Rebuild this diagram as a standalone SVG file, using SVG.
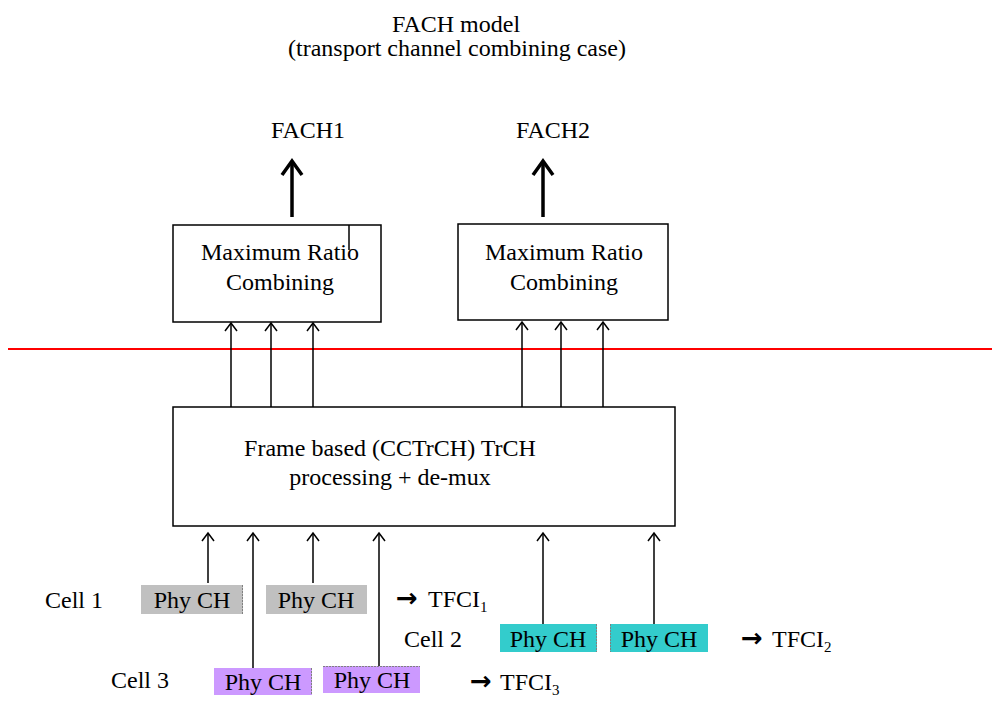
<svg xmlns="http://www.w3.org/2000/svg" width="992" height="704" viewBox="0 0 992 704">
<style>
text{font-family:"Liberation Serif","Times New Roman",serif;font-size:24px;fill:#000}
.c{text-anchor:middle}
.arr{font-family:"DejaVu Sans",sans-serif;font-size:26px;font-weight:bold}
.box{fill:#fff;stroke:#000;stroke-width:1.5}
.ln{stroke:#000;stroke-width:1.5;fill:none}
.thick{stroke:#000;stroke-width:3.5;fill:none}
.sub{font-size:15px}
.gray{fill:#c0c0c0}
.teal{fill:#33cccc}
.purple{fill:#cc99ff}
.edge{stroke:#808080;stroke-width:1;stroke-dasharray:2 1}
</style>
<defs>
<marker id="ah" markerUnits="userSpaceOnUse" markerWidth="20" markerHeight="20" viewBox="-10 -10 20 20" refX="0" refY="0" orient="auto" overflow="visible">
<path d="M-8,-6 L0,0 L-8,6" fill="none" stroke="#000" stroke-width="1.5"/>
</marker>
<marker id="ahb" markerUnits="userSpaceOnUse" markerWidth="30" markerHeight="30" viewBox="-15 -15 30 30" refX="0" refY="0" orient="auto" overflow="visible">
<path d="M-14,-10 L0,0 L-14,10" fill="none" stroke="#000" stroke-width="3.5"/>
</marker>
</defs>
<rect width="992" height="704" fill="#fff"/>
<g id="title">
<text class="c" x="456" y="32">FACH model</text>
<text class="c" x="457" y="56">(transport channel combining case)</text>
</g>
<g id="fach1"><text class="c" x="308" y="138">FACH1</text></g>
<g id="fach2"><text class="c" x="553" y="138">FACH2</text></g>
<g id="mrc1">
<rect class="box" x="173" y="225" width="208" height="97"/>
<line class="ln" x1="349" y1="225" x2="349" y2="250"/>
<text class="c" x="280" y="260">Maximum Ratio</text>
<text class="c" x="280" y="290">Combining</text>
</g>
<g id="mrc2">
<rect class="box" x="458" y="224" width="210" height="96"/>
<text class="c" x="564" y="260">Maximum Ratio</text>
<text class="c" x="564" y="290">Combining</text>
</g>
<g id="divider"><line x1="8" y1="349" x2="992" y2="349" stroke="#ff0000" stroke-width="2"/></g>
<g id="trch">
<rect class="box" x="173" y="407" width="502" height="119"/>
<text class="c" x="390" y="456">Frame based (CCTrCH) TrCH</text>
<text class="c" x="390" y="485">processing + de-mux</text>
</g>
<g id="cell1">
<text x="45" y="608">Cell 1</text>
<rect class="gray" x="141" y="585" width="102" height="29"/>
<line class="edge" x1="242.5" y1="585" x2="242.5" y2="614"/>
<text class="c" x="192" y="608">Phy CH</text>
<rect class="gray" x="266" y="585" width="101" height="29"/>
<text class="c" x="316" y="608">Phy CH</text>
<text class="arr" x="396" y="607">→</text>
<text x="428" y="607">TFCI<tspan class="sub" dy="5">1</tspan></text>
</g>
<g id="cell2">
<text x="404" y="647">Cell 2</text>
<rect class="teal" x="500" y="624" width="97" height="28"/>
<line class="edge" x1="596.5" y1="624" x2="596.5" y2="652"/>
<text class="c" x="548" y="647">Phy CH</text>
<rect class="teal" x="610" y="624" width="98" height="28"/>
<line class="edge" x1="610.5" y1="624" x2="610.5" y2="652"/>
<text class="c" x="659" y="647">Phy CH</text>
<text class="arr" x="741" y="647">→</text>
<text x="772" y="647">TFCI<tspan class="sub" dy="5">2</tspan></text>
</g>
<g id="cell3">
<text x="111" y="688">Cell 3</text>
<rect class="purple" x="214" y="668" width="98" height="27"/>
<line class="edge" x1="311.5" y1="668" x2="311.5" y2="695"/>
<text class="c" x="263" y="690">Phy CH</text>
<rect class="purple" x="323" y="666" width="97" height="27"/>
<line class="edge" x1="323" y1="666.5" x2="420" y2="666.5"/>
<text class="c" x="372" y="688">Phy CH</text>
<text class="arr" x="470" y="690">→</text>
<text x="500" y="690">TFCI<tspan class="sub" dy="5">3</tspan></text>
</g>
<g id="connectors">
<line class="thick" x1="292" y1="217" x2="292" y2="161" marker-end="url(#ahb)"/>
<line class="thick" x1="543" y1="217" x2="543" y2="161" marker-end="url(#ahb)"/>
<line class="ln" x1="231" y1="407" x2="231" y2="323" marker-end="url(#ah)"/>
<line class="ln" x1="271" y1="407" x2="271" y2="323" marker-end="url(#ah)"/>
<line class="ln" x1="313" y1="407" x2="313" y2="323" marker-end="url(#ah)"/>
<line class="ln" x1="522" y1="407" x2="522" y2="322" marker-end="url(#ah)"/>
<line class="ln" x1="561" y1="407" x2="561" y2="322" marker-end="url(#ah)"/>
<line class="ln" x1="603" y1="407" x2="603" y2="322" marker-end="url(#ah)"/>
<line class="ln" x1="208" y1="583" x2="208" y2="533" marker-end="url(#ah)"/>
<line class="ln" x1="253" y1="668" x2="253" y2="533" marker-end="url(#ah)"/>
<line class="ln" x1="313" y1="583" x2="313" y2="533" marker-end="url(#ah)"/>
<line class="ln" x1="379" y1="666" x2="379" y2="533" marker-end="url(#ah)"/>
<line class="ln" x1="543" y1="624" x2="543" y2="533" marker-end="url(#ah)"/>
<line class="ln" x1="654" y1="624" x2="654" y2="533" marker-end="url(#ah)"/>
</g>
</svg>
